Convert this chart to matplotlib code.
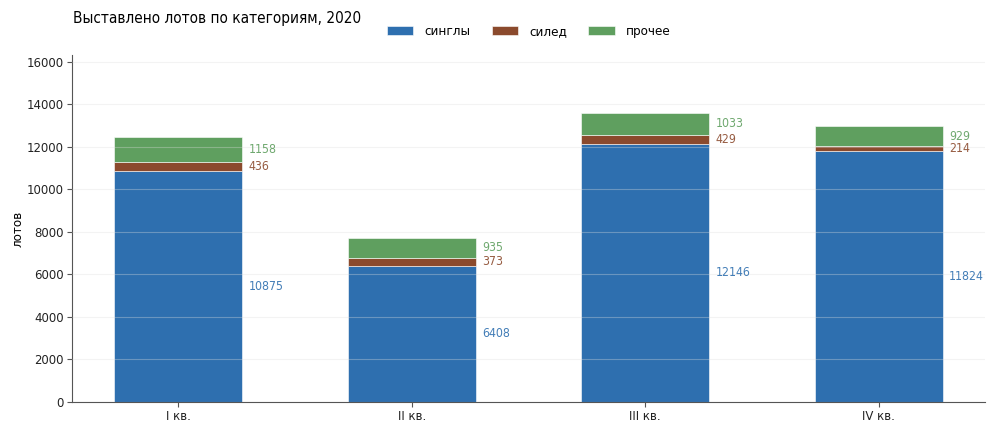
import matplotlib
matplotlib.use("Agg")
import matplotlib.pyplot as plt
import numpy as np

categories = ["I кв.", "II кв.", "III кв.", "IV кв."]
singles = [10875, 6408, 12146, 11824]
sealed = [436, 373, 429, 214]
other = [1158, 935, 1033, 929]

c_single = "#2e6faf"
c_sealed = "#8b4a2d"
c_other = "#5f9f5f"

plt.rcParams["font.stretch"] = "condensed"

fig = plt.figure(figsize=(10, 4.33), dpi=100)
ax = fig.add_axes([0.072, 0.072, 0.913, 0.801])

x = np.arange(len(categories))
w = 0.55
s = np.array(singles); se = np.array(sealed); o = np.array(other)
kw = dict(edgecolor="white", linewidth=0.4, zorder=2)
ax.bar(x, s, w, color=c_single, label="синглы", **kw)
ax.bar(x, se, w, bottom=s, color=c_sealed, label="силед", **kw)
ax.bar(x, o, w, bottom=s + se, color=c_other, label="прочее", **kw)

for i in range(len(x)):
    xt = x[i] + w / 2 + 0.025
    ax.text(xt, s[i] / 2, str(s[i]), color=c_single, alpha=0.9, fontsize=8.8, va="center", ha="left")
    ax.text(xt, s[i] + se[i] / 2, str(se[i]), color=c_sealed, alpha=0.9, fontsize=8.8, va="center", ha="left")
    ax.text(xt, s[i] + se[i] + o[i] / 2, str(o[i]), color=c_other, alpha=0.9, fontsize=8.8, va="center", ha="left")

ax.set_xticks(x)
ax.set_xticklabels(categories)
ax.set_xlim(-0.455, 3.455)
total = (s + se + o).max()
ax.set_ylim(0, total * 1.2)
ax.set_yticks(np.arange(0, 16001, 2000))
ax.yaxis.grid(True, color="#dddddd", linewidth=0.8, zorder=3, alpha=0.35)
ax.set_axisbelow(False)
ax.spines["top"].set_visible(False)
ax.spines["right"].set_visible(False)
ax.spines["left"].set_color("#555555")
ax.spines["bottom"].set_color("#555555")
ax.tick_params(axis="both", colors="#555555", labelcolor="#222222", labelsize=9.4, pad=2.5)
ax.set_ylabel("лотов", fontsize=9.5, labelpad=1.5)

fig.text(0.073, 0.957, "Выставлено лотов по категориям, 2020", fontsize=11, va="center", ha="left")
ax.legend(loc="center", bbox_to_anchor=(0.5, 1.068), ncol=3, frameon=False, fontsize=9.6,
          handlelength=2.0, columnspacing=1.6, bbox_transform=ax.transAxes)

fig.savefig("out.png", dpi=100)
